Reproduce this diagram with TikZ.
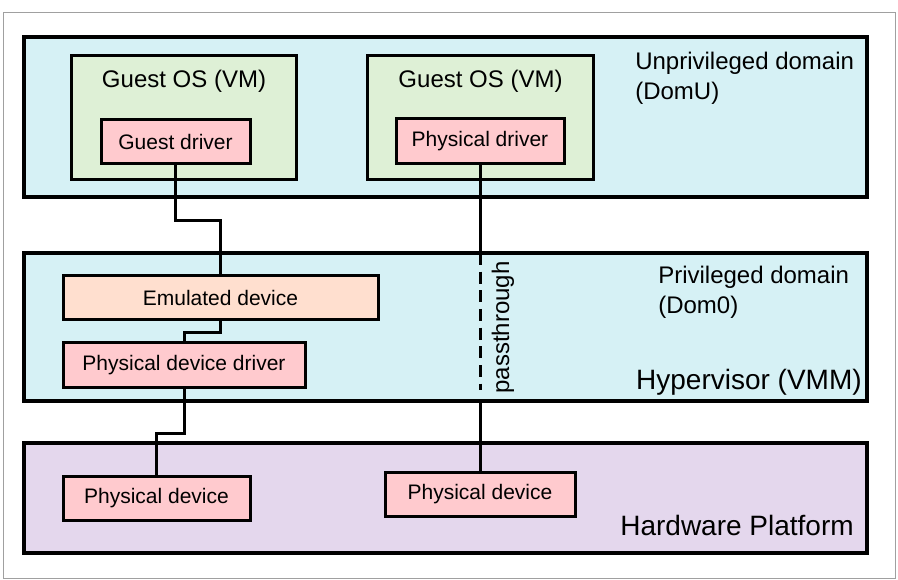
\documentclass[tikz,border=0pt]{standalone}
\usepackage{fontspec}
\setmainfont{Liberation Sans}
\definecolor{domcyan}{RGB}{214,241,245}
\definecolor{guestgreen}{RGB}{222,240,214}
\definecolor{drvpink}{RGB}{255,202,206}
\definecolor{emupeach}{RGB}{255,223,207}
\definecolor{hwlilac}{RGB}{228,215,237}
\definecolor{framegray}{RGB}{160,160,160}
\begin{document}
\begin{tikzpicture}[x=0.75pt, y=-0.75pt,
  panel/.style={draw, line width=2.5pt, inner sep=0pt, minimum width=632.25pt},
  guestbox/.style={draw, line width=2.25pt, fill=guestgreen, inner sep=0pt,
    minimum width=169pt, minimum height=93pt},
  devbox/.style={draw, line width=2.25pt, fill=drvpink, inner sep=0pt,
    minimum height=33.5pt, font=\fontsize{15.75}{18}\selectfont},
  link/.style={line width=2.25pt},
  midlabel/.style={inner sep=0pt, font=\fontsize{18}{22.5}\selectfont},
  biglabel/.style={inner sep=0pt, font=\fontsize{21}{25}\selectfont}]
  \useasboundingbox (0,0) rectangle (898,580);
  \draw[framegray, line width=0.75pt] (3,13) rectangle (895,578);

  % Unprivileged domain
  \node[panel, fill=domcyan, minimum height=120pt] (domu) at (445.5,117) {};
  \node[guestbox] (guest1) at (184,118) {};
  \node[guestbox] (guest2) at (480.5,118) {};
  \node[midlabel, anchor=base] (g1title) at (184,88) {Guest OS (VM)};
  \node[midlabel, anchor=base] (g2title) at (480.5,88) {Guest OS (VM)};
  \node[devbox, minimum width=111.75pt] (gdrv) at (175.5,141.5) {Guest driver};
  \node[devbox, minimum width=126pt] (pdrv) at (480,141) {Physical driver};
  \node[midlabel, anchor=north west, align=left] (domutext) at (635,52)
    {Unprivileged domain\\(DomU)};

  % Hypervisor
  \node[panel, fill=domcyan, minimum height=111pt] (hyp) at (445.5,327) {};
  \node[devbox, fill=emupeach, minimum width=236.25pt] (emu) at (220.5,297.5) {Emulated device};
  \node[devbox, minimum width=181.5pt] (pdd) at (184,365) {Physical device driver};
  \node[midlabel, anchor=north west, align=left] (dom0text) at (658,266)
    {Privileged domain\\(Dom0)};
  \node[biglabel, anchor=base east] (hyptext) at (862,389) {Hypervisor (VMM)};
  \node[midlabel, rotate=90] (passtext) at (503,327.5) {passthrough};

  % Hardware
  \node[panel, fill=hwlilac, minimum height=82.5pt] (hw) at (445.5,498) {};
  \node[devbox, minimum width=140.25pt] (phys1) at (156.5,498.5) {Physical device};
  \node[devbox, minimum width=142.5pt] (phys2) at (480,494.5) {Physical device};
  \node[biglabel, anchor=base east] (hwtext) at (854,535) {Hardware Platform};

  % Verbindungen
  \draw[link] (gdrv.south) -- ++(0,55) -| (emu.north);
  \draw[link] (emu.south) -- ++(0,11) -| (pdd.north);
  \draw[link] (pdd.south) -- ++(0,45) -| (phys1.north);
  \coordinate (ptop) at (480,265);
  \coordinate (pend) at (480,390);
  \coordinate (pbot) at (480,401);
  \draw[link] (pdrv.south) -- (ptop);
  \draw[link, dash pattern=on 9pt off 5pt, dash phase=9pt] (ptop) -- (pend);
  \draw[link] (pbot) -- (phys2.north);
\end{tikzpicture}
\end{document}
